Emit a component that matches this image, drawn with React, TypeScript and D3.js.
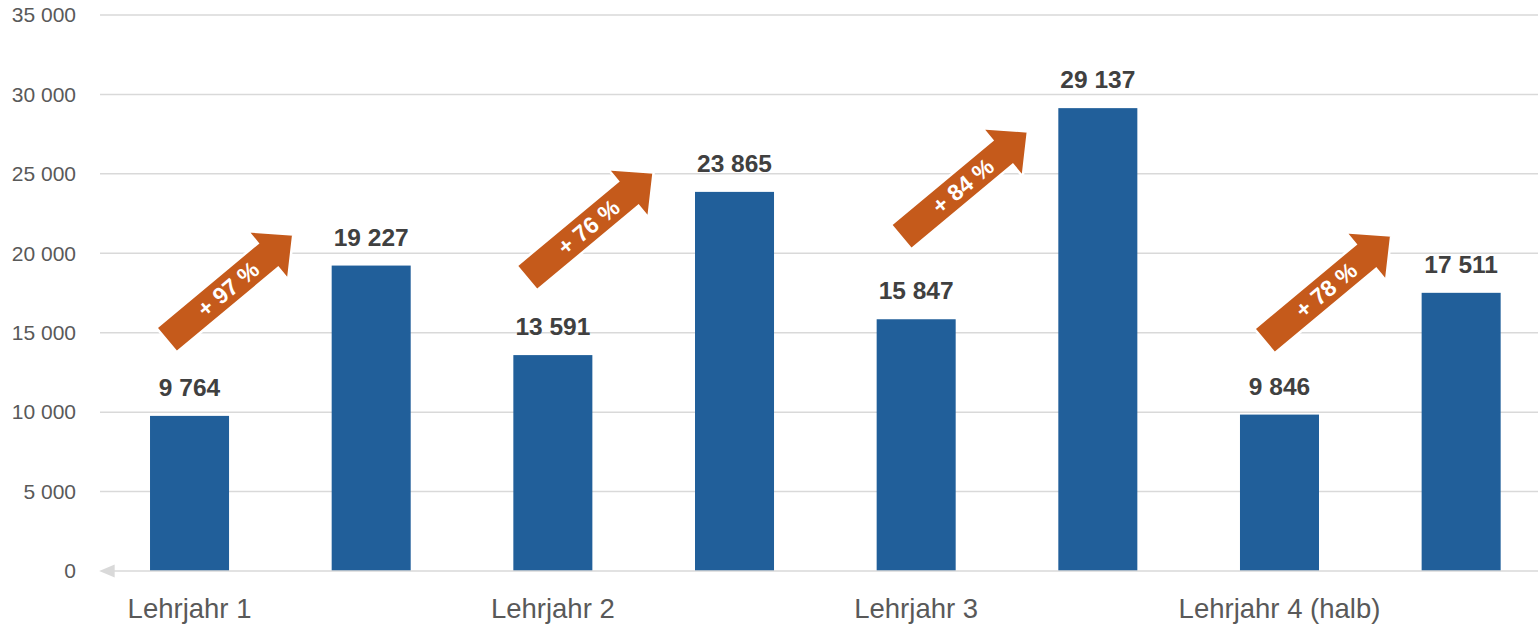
import React from 'react';
import * as d3 from 'd3';

// Werte
const categories = ['L1a', 'L1b', 'L2a', 'L2b', 'L3a', 'L3b', 'L4a', 'L4b'];
const categoryLabels = ['Lehrjahr 1', '', 'Lehrjahr 2', '', 'Lehrjahr 3', '', 'Lehrjahr 4 (halb)', ''];
const values = [9764, 19227, 13591, 23865, 15847, 29137, 9846, 17511];
const yTicks = [0, 5000, 10000, 15000, 20000, 25000, 30000, 35000];

// Pfeile: von Balken i zu Balken i+1
const arrowFrom = [0, 2, 4, 6];
const arrowLabels = ['+ 97 %', '+ 76 %', '+ 84 %', '+ 78 %'];
const arrowTailValues = [14541, 18444, 21025, 14478];

const W = 1538;
const H = 628;
const font = '"Liberation Sans", Arial, sans-serif';
const fmt = (v: number) => d3.format(',')(v).replace(/,/g, ' ');

const x = d3.scaleBand<string>()
  .domain(categories)
  .range([98.7, 98.7 + 8 * 181.66])
  .paddingInner(0.565)
  .paddingOuter(0.2825);

const y = d3.scaleLinear().domain([0, 35000]).range([571, 15]);

const arrowShift = [-23, -26, -15, -15];
const ARROW_LEN = 165;
const HEAD_LEN = 33;
const BODY_HALF = 16;
const HEAD_HALF = 31.5;
const ANGLE = -39.8;

const arrowPath = () => {
  const p = d3.path();
  const b = ARROW_LEN - HEAD_LEN;
  p.moveTo(0, -BODY_HALF);
  p.lineTo(b, -BODY_HALF);
  p.lineTo(b, -HEAD_HALF);
  p.lineTo(ARROW_LEN, 0);
  p.lineTo(b, HEAD_HALF);
  p.lineTo(b, BODY_HALF);
  p.lineTo(0, BODY_HALF);
  p.closePath();
  return p.toString();
};

export default function App() {
  const x0 = x.range()[0];
  const bw = x.bandwidth();
  return (
    <svg width={W} height={H} style={{ position: 'absolute', left: 0, top: 0, background: '#fff' }} fontFamily={font}>
      {/* Gitternetz */}
      {yTicks.filter(t => t > 0).map(t => (
        <line key={t} x1={100} x2={W} y1={y(t)} y2={y(t)} stroke="#d9d9d9" strokeWidth={1.5} />
      ))}
      {yTicks.map(t => (
        <text key={'l' + t} x={76} y={y(t)} dy="0.35em" textAnchor="end" fontSize={21} fill="#595959">
          {fmt(t)}
        </text>
      ))}

      {/* Balken */}
      {categories.map((c, i) => (
        <g key={c}>
          <rect x={x(c)} y={y(values[i])} width={bw} height={y(0) - y(values[i])} fill="#215f9a" />
          <text x={x(c)! + bw / 2} y={y(values[i]) - 20} textAnchor="middle" fontSize={24.5}
            fontWeight="bold" fill="#404040">
            {fmt(values[i])}
          </text>
        </g>
      ))}

      {/* Achse */}
      <line x1={105} x2={W} y1={y(0)} y2={y(0)} stroke="#d9d9d9" strokeWidth={1.5} />
      <path d={`M${x0 + 0.5},${y(0)} L${x0 + 16},${y(0) - 6.5} L${x0 + 16},${y(0) + 6.5} Z`} fill="#d9d9d9" />
      {categories.map((c, i) => categoryLabels[i] ? (
        <text key={'c' + c} x={x(c)! + bw / 2} y={618} textAnchor="middle" fontSize={27.5} fill="#595959">
          {categoryLabels[i]}
        </text>
      ) : null)}

      {/* Pfeile */}
      {arrowFrom.map((ci, k) => {
        const c = categories[ci];
        const tx = x(c)! + bw / 2 + arrowShift[k];
        const ty = y(arrowTailValues[k]);
        return (
          <g key={'a' + k} transform={`translate(${tx},${ty}) rotate(${ANGLE})`}>
            <path d={arrowPath()} fill="#c55a1b" stroke="#fff" strokeWidth={2.5} strokeLinejoin="miter" />
            <text x={80} y={0} dy="0.36em" textAnchor="middle" fontSize={23} fontWeight="bold" fill="#fff">
              {arrowLabels[k]}
            </text>
          </g>
        );
      })}
    </svg>
  );
}
